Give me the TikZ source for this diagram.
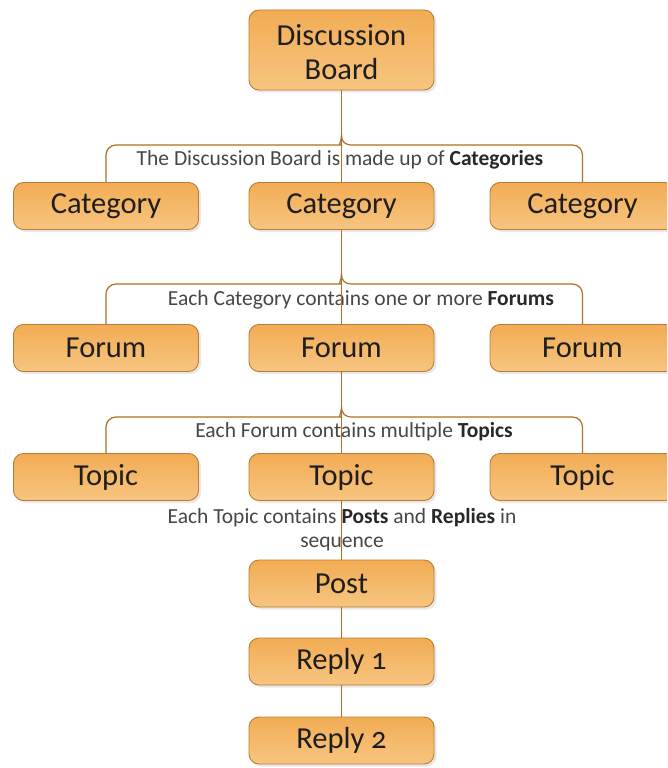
\documentclass[tikz,border=0pt]{standalone}
\usepackage{fontspec}
\setmainfont{Carlito}
\usetikzlibrary{shadows}
\definecolor{boxtop}{RGB}{242,172,84}
\definecolor{boxbot}{RGB}{247,197,128}
\definecolor{boxline}{RGB}{186,124,52}
\definecolor{wire}{RGB}{172,112,38}
\definecolor{boxtext}{RGB}{30,30,30}
\definecolor{notetext}{RGB}{70,70,70}
\definecolor{notebold}{RGB}{40,40,40}
\tikzset{
  entity/.style={draw=boxline, line width=0.9pt, rounded corners=10pt,
    top color=boxtop, bottom color=boxbot,
    minimum width=185pt, minimum height=47pt, inner sep=0pt,
    text=boxtext, font=\fontsize{30.5}{34}\selectfont, align=center,
    drop shadow={shadow xshift=2.5pt, shadow yshift=-2.5pt, opacity=0.18, fill=black!50}},
  note/.style={text=notetext, font=\fontsize{21.5}{24}\selectfont, align=center, inner sep=0pt},
  conn/.style={draw=wire, line width=1.2pt},
}
\newcommand{\kw}[1]{\textbf{\color{notebold}#1}}
\begin{document}
\begin{tikzpicture}[x=1pt, y=-1pt]
\useasboundingbox (0,0) rectangle (667,768);
\clip (0,0) rectangle (667,768);

% boxes
\node[entity, minimum height=80pt] (board) at (341.5,50) {\rule{0pt}{25pt}Discussion\\Board};

\node[entity] (cat1) at (106,206) {Category};
\node[entity] (cat2) at (341.5,206) {Category};
\node[entity] (cat3) at (582.5,206) {Category};

\node[entity] (forum1) at (106,348) {Forum};
\node[entity] (forum2) at (341.5,348) {Forum};
\node[entity] (forum3) at (582.5,348) {Forum};

\node[entity] (topic1) at (106,477) {Topic};
\node[entity] (topic2) at (341.5,477) {Topic};
\node[entity] (topic3) at (582.5,477) {Topic};

\node[entity] (post) at (341.5,583.5) {Post};
\node[entity] (reply1) at (341.5,661.5) {Reply \addfontfeatures{Numbers=OldStyle}1};
\node[entity] (reply2) at (341.5,740.5) {Reply \addfontfeatures{Numbers=OldStyle}2};

% notes on each level
\node[note] (n1) at (340,160) {The Discussion Board is made up of \kw{Categories}};
\node[note] (n2) at (361,300) {Each Category contains one or more \kw{Forums}};
\node[note] (n3) at (354,432) {Each Forum contains multiple \kw{Topics}};
\node[note] (n4) at (342,530) {Each Topic contains \kw{Posts} and \kw{Replies} in\\sequence};

% branching connectors with a brace-like junction
\coordinate (j1) at (341.5,135);
\coordinate (j2) at (341.5,274);
\coordinate (j3) at (341.5,406);

\draw[conn] (cat1.north) [rounded corners=10pt] |- (330.5,145) [sharp corners]
  .. controls (338,145) and (341.5,142) .. (j1)
  .. controls (341.5,142) and (345,145) .. (352.5,145)
  [rounded corners=10pt] -| (cat3.north);
\draw[conn] (board.south) -- (cat2.north);

\draw[conn] (forum1.north) [rounded corners=10pt] |- (330.5,284) [sharp corners]
  .. controls (338,284) and (341.5,281) .. (j2)
  .. controls (341.5,281) and (345,284) .. (352.5,284)
  [rounded corners=10pt] -| (forum3.north);
\draw[conn] (cat2.south) -- (forum2.north);

\draw[conn] (topic1.north) [rounded corners=10pt] |- (330.5,417) [sharp corners]
  .. controls (338,417) and (341.5,414) .. (j3)
  .. controls (341.5,414) and (345,417) .. (352.5,417)
  [rounded corners=10pt] -| (topic3.north);
\draw[conn] (forum2.south) -- (topic2.north);

% sequence of messages
\draw[conn] (topic2.south) -- (post.north);
\draw[conn] (post.south) -- (reply1.north);
\draw[conn] (reply1.south) -- (reply2.north);
\end{tikzpicture}
\end{document}
